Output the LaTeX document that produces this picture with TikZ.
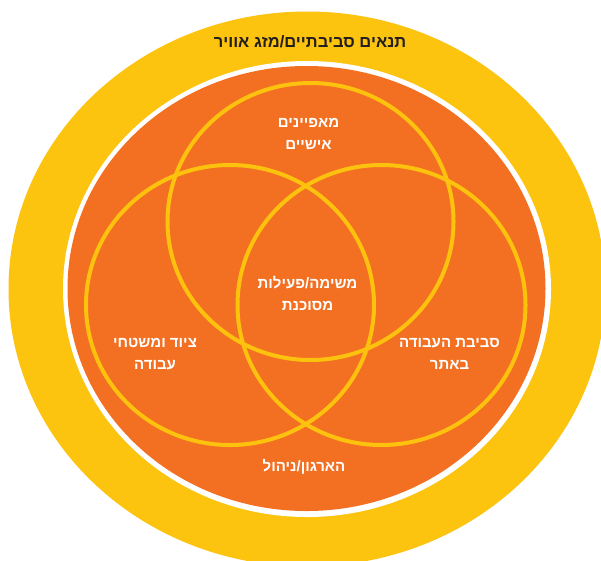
\documentclass[tikz,border=0pt]{standalone}
\usepackage{fontspec}
\newfontfamily\heb[Script=Hebrew]{Liberation Sans}
\TeXXeTstate=1
\definecolor{ringyellow}{HTML}{FCC30F}
\definecolor{vennyellow}{HTML}{FDC20E}
\definecolor{bgorange}{HTML}{F37022}
\definecolor{titledark}{HTML}{231F20}
\tikzset{
  lbl/.style={text=white, font=\heb\bfseries\fontsize{15}{22}\selectfont, align=center, inner sep=0pt},
  ttl/.style={text=titledark, font=\heb\bfseries\fontsize{16.5}{20}\selectfont, inner sep=0pt},
  venn/.style={draw=vennyellow, line width=4pt}
}
\begin{document}
\begin{tikzpicture}[x=1pt,y=-1pt]
\useasboundingbox (0,0) rectangle (601,560);
\fill[white] (0,0) rectangle (601,560);
% outer yellow ring
\fill[ringyellow] (307,289) ellipse [x radius=298.5pt, y radius=277.5pt];
% white gap
\fill[white] (307,289) ellipse [x radius=244pt, y radius=228pt];
% orange field
\fill[bgorange] (306.5,288.5) ellipse [x radius=239pt, y radius=222.5pt];
% Venn ellipses
\draw[venn] (310.5,221.5) ellipse [x radius=143pt, y radius=138.5pt];
\draw[venn] (230,305) ellipse [x radius=144pt, y radius=140pt];
\draw[venn] (381.5,305) ellipse [x radius=144pt, y radius=140pt];
% labels
\node[ttl, anchor=base] (title) at (310,47.5) {\beginR תנאים סביבתיים/מזג אוויר\endR};
\node[lbl] (personal) at (308.5,134) {\beginR מאפיינים\endR\\\beginR אישיים\endR};
\node[lbl] (task) at (307.5,293) {\beginR משימה/פעילות\endR\\\beginR מסוכנת\endR};
\node[lbl] (equip) at (155,354) {\beginR ציוד ומשטחי\endR\\\beginR עבודה\endR};
\node[lbl] (site) at (449.5,354) {\beginR סביבת העבודה\endR\\\beginR באתר\endR};
\node[lbl, anchor=base] (org) at (304,471.5) {\beginR הארגון/ניהול\endR};
\end{tikzpicture}
\end{document}
